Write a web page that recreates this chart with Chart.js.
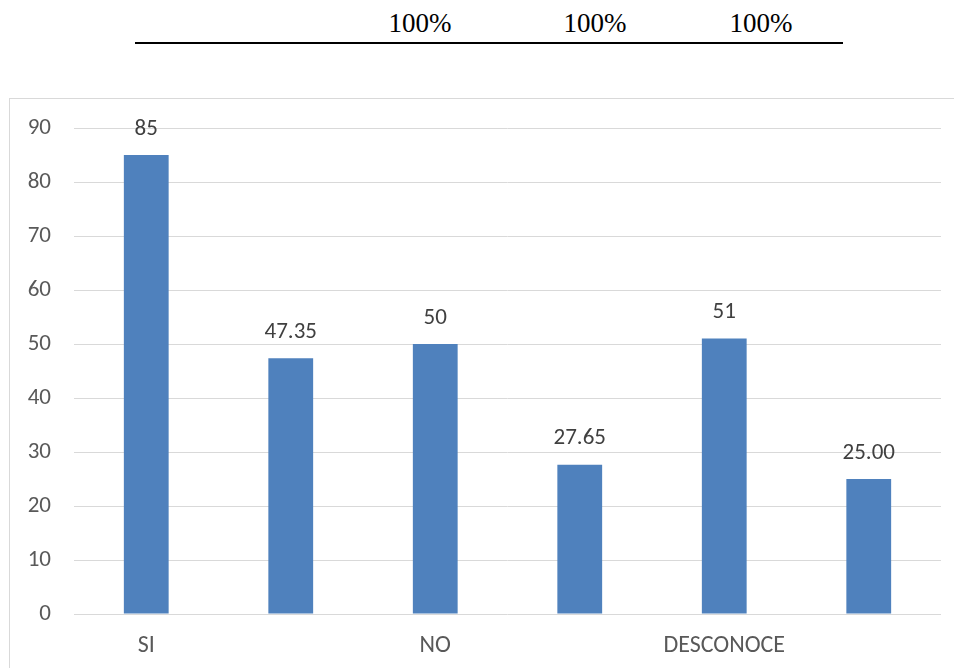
<!DOCTYPE html>
<html>
<head>
<meta charset="utf-8">
<script src="https://cdn.jsdelivr.net/npm/chart.js@4"></script>
<style>
  html, body { margin: 0; padding: 0; background: #fff; overflow: hidden; }
  body { width: 954px; height: 668px; position: relative; }
  .pct { position: absolute; top: 8px; font-family: "Liberation Serif", "Times New Roman", serif; font-size: 27px; color: #000; transform: translateX(-50%); }
  .rule { position: absolute; left: 135px; top: 42px; width: 708px; height: 2px; background: #000; }
  #box { position: absolute; left: 9px; top: 98px; width: 960px; height: 580px; border: 1px solid #d9d9d9; box-sizing: border-box; }
  #box canvas { position: absolute; left: 0; top: 0; }
</style>
</head>
<body>
<div class="pct" style="left:420px">100%</div>
<div class="pct" style="left:595px">100%</div>
<div class="pct" style="left:761px">100%</div>
<div class="rule"></div>
<div id="box"><canvas id="c" width="958" height="578"></canvas></div>
<script>
const categories = ["SI", "", "NO", "", "DESCONOCE", ""];
const values = [85, 47.35, 50, 27.65, 51, 25.00];
const valueLabels = ["85", "47.35", "50", "27.65", "51", "25.00"];
const yTicks = [0, 10, 20, 30, 40, 50, 60, 70, 80, 90];

const fontFamily = "Carlito, 'Liberation Sans Narrow', 'Open Sans', sans-serif";

//value labels above each bar
const barLabels = {
  id: "barLabels",
  afterDatasetsDraw(chart) {
    const ctx = chart.ctx;
    const meta = chart.getDatasetMeta(0);
    ctx.save();
    ctx.font = "23px " + fontFamily;
    ctx.fillStyle = "#404040";
    ctx.textAlign = "center";
    ctx.textBaseline = "middle";
    meta.data.forEach((bar, i) => {
      ctx.fillText(valueLabels[i], bar.x, bar.y - 26);
    });
    ctx.restore();
  }
};

new Chart(document.getElementById("c"), {
  type: "bar",
  data: {
    labels: categories,
    datasets: [{
      data: values,
      backgroundColor: "#4f81bd",
      barPercentage: 0.62,
      categoryPercentage: 0.5
    }]
  },
  options: {
    responsive: false,
    animation: false,
    layout: { padding: { top: 29, right: 27, left: 0, bottom: 0 } },
    plugins: { legend: { display: false }, tooltip: { enabled: false } },
    scales: {
      x: {
        grid: { display: false },
        border: { display: false },
        ticks: {
          color: "#595959",
          font: { family: fontFamily, size: 24 },
          padding: 10,
          autoSkip: false,
          maxRotation: 0
        },
        afterFit(scale) {
          scale.height = 63;
          scale.paddingLeft = 0;
          scale.paddingRight = 0;
        }
      },
      y: {
        min: 0,
        max: 90,
        afterBuildTicks(scale) { scale.ticks = yTicks.map(v => ({ value: v })); },
        grid: { color: "#d9d9d9", lineWidth: 1, drawTicks: false },
        border: { display: false },
        ticks: {
          color: "#595959",
          font: { family: fontFamily, size: 23 },
          padding: 23
        },
        afterFit(scale) {
          scale.width = 64;
          scale.paddingTop = 0;
          scale.paddingBottom = 0;
        }
      }
    }
  },
  plugins: [barLabels]
});
</script>
</body>
</html>
